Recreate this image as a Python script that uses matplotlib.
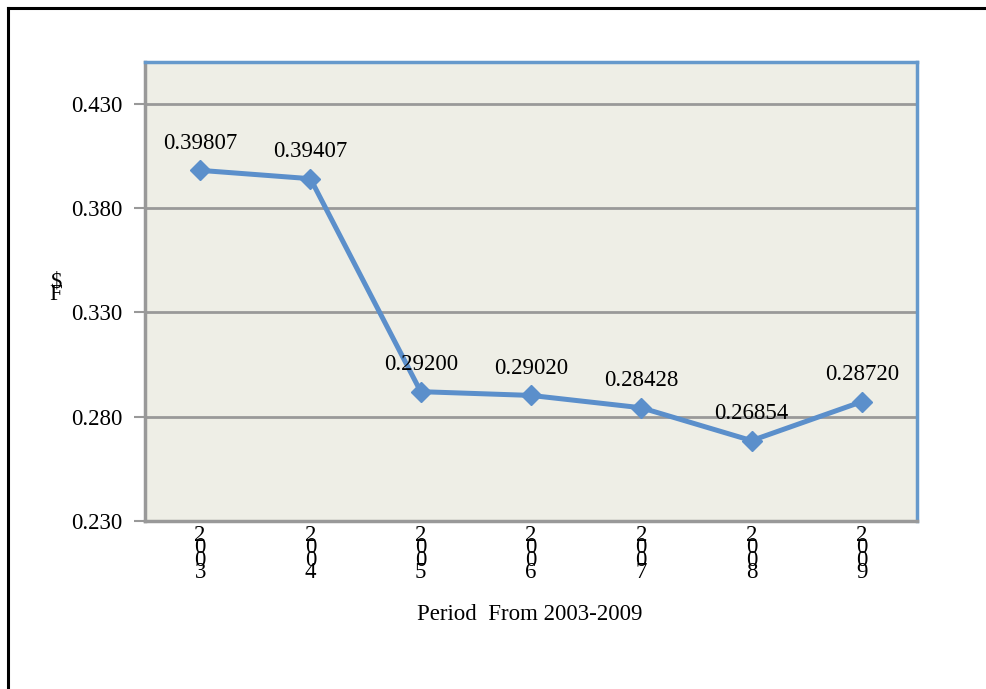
import matplotlib
matplotlib.use("Agg")
import matplotlib.pyplot as plt
from matplotlib.lines import Line2D

years = ["2003", "2004", "2005", "2006", "2007", "2008", "2009"]
values = [0.39807, 0.39407, 0.29200, 0.29020, 0.28428, 0.26854, 0.28720]
y_ticks = [0.230, 0.280, 0.330, 0.380, 0.430]
x_title = "Period  From 2003-2009"
y_title = "$\nF"

serif = ["Liberation Serif", "DejaVu Serif"]
fs = 16.5
line_color = "#5B8FCB"
grid_color = "#999999"

fig = plt.figure(figsize=(9.86, 6.89), dpi=100)
ax = fig.add_axes([0.1471, 0.2438, 0.9300 - 0.1471, 0.9100 - 0.2438])
ax.set_facecolor("#EEEEE6")

x = list(range(len(years)))
ax.plot(x, values, color=line_color, lw=3.6, marker="D", ms=10.5,
        mfc=line_color, mec=line_color, zorder=3)

for xi, v in zip(x, values):
    ax.annotate(f"{v:.5f}", (xi, v), xytext=(0, 12), textcoords="offset points",
                ha="center", va="bottom", fontsize=fs, family=serif)

ax.set_xlim(-0.5, len(years) - 0.5)
ax.set_ylim(0.230, 0.450)
ax.set_yticks(y_ticks)
ax.set_yticklabels([f"{t:.3f}" for t in y_ticks], family=serif, fontsize=fs)
ax.yaxis.grid(True, color=grid_color, lw=2)
ax.set_axisbelow(True)

ax.set_xticks(x)
ax.set_xticklabels(["\n".join(y) for y in years], family=serif, fontsize=fs,
                   linespacing=0.45)
ax.tick_params(axis="x", length=0, pad=3)
ax.tick_params(axis="y", length=8, width=1.5, color=grid_color, pad=8, direction="out")

for side in ("left", "bottom"):
    ax.spines[side].set_color(grid_color)
    ax.spines[side].set_linewidth(2.5)
for side in ("top", "right"):
    ax.spines[side].set_color("#6699CC")
    ax.spines[side].set_linewidth(2.5)

fig.text(530 / 986, 1 - 615 / 689, x_title, ha="center", va="center",
         fontsize=fs, family=serif)
fig.text(56 / 986, 1 - 288 / 689, y_title, ha="center", va="center",
         fontsize=fs, family=serif, linespacing=0.45)

# outer frame: top and left edges
fig.add_artist(Line2D([8 / 986, 1.0], [1 - 8 / 689, 1 - 8 / 689], color="black",
                      lw=2.2, transform=fig.transFigure))
fig.add_artist(Line2D([8 / 986, 8 / 986], [0.0, 1 - 8 / 689], color="black",
                      lw=2.2, transform=fig.transFigure))

fig.savefig("out.png", dpi=100)
